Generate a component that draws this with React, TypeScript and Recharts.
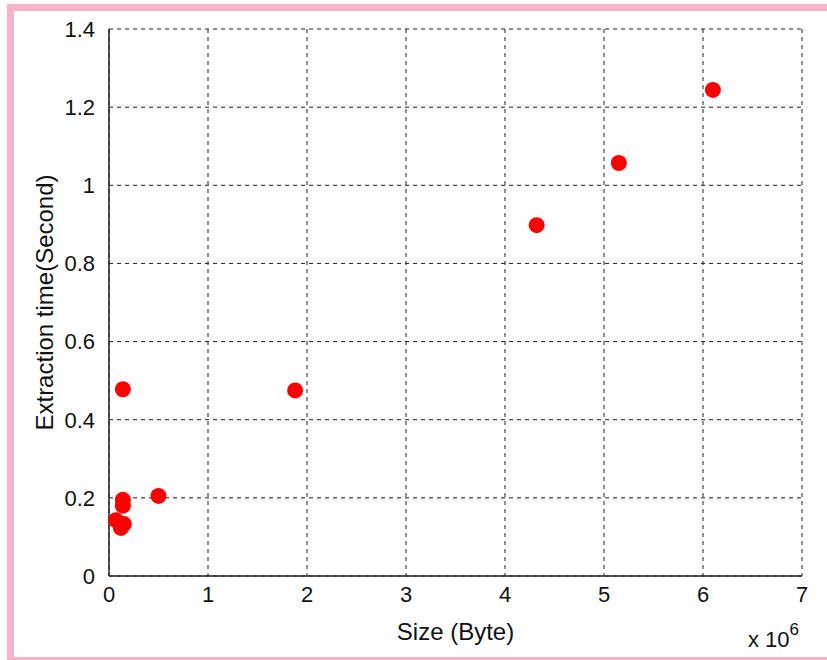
import React from 'react';
import {
  ScatterChart,
  Scatter,
  XAxis,
  YAxis,
  CartesianGrid,
  Label,
} from 'recharts';

// file sizes in units of 10^6 bytes
const sizes = [0.07, 0.12, 0.15, 0.14, 0.14, 0.14, 0.5, 1.88, 4.32, 5.15, 6.1];
// extraction time in seconds
const times = [0.143, 0.123, 0.133, 0.195, 0.18, 0.478, 0.205, 0.475, 0.898, 1.057, 1.244];

const xTicks = [0, 1, 2, 3, 4, 5, 6, 7];
const yTicks = [0, 0.2, 0.4, 0.6, 0.8, 1, 1.2, 1.4];

const FONT = '"Liberation Sans", Arial, sans-serif';

const Dot = (props: any) => {
  const { cx, cy } = props;
  return <circle cx={cx} cy={cy} r={8} fill="#ff0000" />;
};

const App: React.FC = () => {
  const data = sizes.map((s, i) => ({ size: s, time: times[i] }));

  return (
    <div
      style={{
        position: 'absolute',
        left: 0,
        top: 0,
        width: 827,
        height: 660,
        overflow: 'hidden',
        background: '#fff',
        fontFamily: FONT,
      }}
    >
      {/* pink frame */}
      <div
        style={{
          position: 'absolute',
          left: 7,
          top: 4,
          width: 840,
          height: 646,
          border: '7px solid #f9b2c9',
        }}
      />
      <ScatterChart
        width={827}
        height={660}
        margin={{ top: 29, right: 25, bottom: 20, left: 49 }}
        style={{ position: 'absolute', left: 0, top: 0 }}
      >
        <CartesianGrid stroke="#222" strokeDasharray="4 4" strokeWidth={1} />
        <XAxis
          type="number"
          dataKey="size"
          domain={[0, 7]}
          ticks={xTicks}
          height={64}
          axisLine={{ stroke: '#222', strokeWidth: 1.5 }}
          tickLine={false}
          tickMargin={4}
          tick={{ fill: '#111', fontSize: 22, fontFamily: FONT }}
        >
          <Label
            value="Size (Byte)"
            position="insideBottom"
            offset={0}
            style={{ fill: '#111', fontSize: 24, fontFamily: FONT }}
          />
        </XAxis>
        <XAxis
          xAxisId="top"
          orientation="top"
          type="number"
          domain={[0, 7]}
          ticks={xTicks}
          height={0}
          axisLine={{ stroke: '#222', strokeWidth: 1.5 }}
          tick={false}
          tickLine={false}
        />
        <YAxis
          type="number"
          dataKey="time"
          domain={[0, 1.4]}
          ticks={yTicks}
          width={60}
          axisLine={{ stroke: '#222', strokeWidth: 1.5 }}
          tickLine={false}
          tickMargin={8}
          tick={{ fill: '#111', fontSize: 22, fontFamily: FONT }}
        >
          <Label
            value="Extraction time(Second)"
            angle={-90}
            position="insideLeft"
            offset={-5}
            style={{ textAnchor: 'middle', fill: '#111', fontSize: 24, fontFamily: FONT }}
          />
        </YAxis>
        <YAxis
          yAxisId="right"
          orientation="right"
          type="number"
          domain={[0, 1.4]}
          ticks={yTicks}
          width={0}
          axisLine={{ stroke: '#222', strokeWidth: 1.5 }}
          tick={false}
          tickLine={false}
        />
        <Scatter data={data} shape={<Dot />} isAnimationActive={false} />
      </ScatterChart>
      <div
        style={{
          position: 'absolute',
          left: 748,
          top: 627,
          fontSize: 22,
          lineHeight: '25px',
          color: '#111',
          fontFamily: FONT,
          whiteSpace: 'nowrap',
        }}
      >
        x 10<sup style={{ fontSize: 17, position: 'relative', top: -4, lineHeight: 0 }}>6</sup>
      </div>
    </div>
  );
};

export default App;
